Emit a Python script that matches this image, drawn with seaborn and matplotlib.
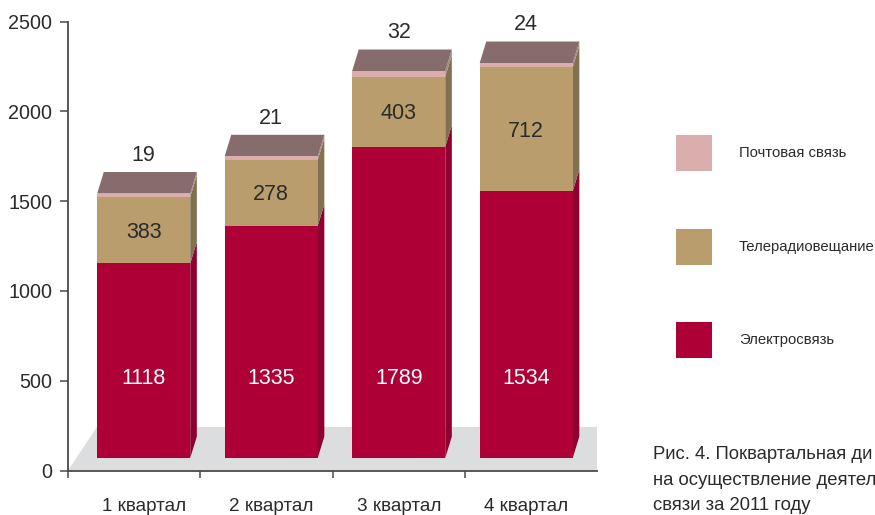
import matplotlib
matplotlib.use("Agg")
import matplotlib.pyplot as plt
from matplotlib.patches import Patch
import pandas as pd
import seaborn as sns

quarters = ["1 квартал", "2 квартал", "3 квартал", "4 квартал"]
electro = [1118, 1335, 1789, 1534]
# The printed label for Q2 broadcasting reads 278, while the bar is drawn at about 378.
tele_drawn = [383, 378, 403, 712]
tele_labels = ["383", "278", "403", "712"]
post = [19, 21, 32, 24]
y_ticks = [0, 500, 1000, 1500, 2000, 2500]
series_names = ["Почтовая связь", "Телерадиовещание", "Электросвязь"]
caption = ["Рис. 4. Поквартальная ди", "на осуществление деятел", "связи за 2011 году"]

C_EL, C_TE, C_PO = "#ae0037", "#b99d6d", "#dbaeae"
S_EL, S_TE, S_PO = "#8e0030", "#82714f", "#a08a80"
C_TOP, C_FLOOR, C_AXIS, C_TXT = "#866c6c", "#dcddde", "#4a4a4a", "#2b2b2b"

sns.set_theme(style="white")
plt.rcParams["font.family"] = ["Liberation Sans", "DejaVu Sans"]
FS_VAL = 15.5
FS_TICK = 14.2
FS_CAT = 13.6
FS_CAP = 13.3
LFS = 10.7

W, H = 875, 515
fig = plt.figure(figsize=(W / 100, H / 100), dpi=100, facecolor="white")
L, R, T, B = 68, 597, 21.5, 470.5
rect = [L / W, 1 - B / H, (R - L) / W, (B - T) / H]

# ---- base axes: y scale, ticks, floor
ax = fig.add_axes(rect, facecolor="none")
ax.set_xlim(0, 4)
ax.set_ylim(0, 2500)
ax.set_xticks([0, 1, 2, 3])
ax.set_xticklabels([])
ax.set_yticks(y_ticks)
ax.tick_params(axis="y", length=6, width=1.1, color=C_AXIS, labelsize=FS_TICK, labelcolor=C_TXT, pad=5.3, left=True)
ax.tick_params(axis="x", length=5, width=1.1, color=C_AXIS, bottom=True)
for s in ("top", "right"):
    ax.spines[s].set_visible(False)
for s in ("left", "bottom"):
    ax.spines[s].set_color(C_AXIS)
    ax.spines[s].set_linewidth(1.3)
ax.grid(False)
floor_depth = 243
floor_skew = 0.219
ax.fill([0, floor_skew, 4, 4], [0, floor_depth, floor_depth, 0], color=C_FLOOR, lw=0, zorder=0)

# ---- bar axes: perspective-shrunk scale standing on the floor
px_per_unit = 0.174
step_px = 127.5
base_px = 458
first_center_px = 143.7
ax2 = fig.add_axes(rect, facecolor="none")
df = pd.DataFrame({"quarter": quarters, "el": electro, "te": tele_drawn, "po": post})
df["cum_te"] = df.el + df.te
df["cum_po"] = df.cum_te + df.po
bar_w = 0.73
for col, c in (("cum_po", C_PO), ("cum_te", C_TE), ("el", C_EL)):
    sns.barplot(data=df, x="quarter", y=col, color=c, saturation=1, width=bar_w, ax=ax2, zorder=3, linewidth=0)

ax2.set_xlim((L - first_center_px) / step_px, (R - first_center_px) / step_px)
y0 = -(B - base_px) / px_per_unit
ax2.set_ylim(y0, y0 + (B - T) / px_per_unit)
dx = 6.6 / step_px
dy = 21.5 / px_per_unit

for i, row in df.iterrows():
    xl, xr = i - bar_w / 2, i + bar_w / 2
    for lo, hi, c in ((0, row.el, S_EL), (row.el, row.cum_te, S_TE), (row.cum_te, row.cum_po, S_PO)):
        ax2.fill([xr, xr + dx, xr + dx, xr], [lo, lo + dy, hi + dy, hi], color=c, lw=0, zorder=2)
    t = row.cum_po
    ax2.fill([xl, xl + dx, xr + dx, xr], [t, t + dy, t + dy, t], color=C_TOP, lw=0, zorder=2)
    ax2.text(i, (base_px - 379) / px_per_unit, str(row.el), color="white", fontsize=FS_VAL,
             ha="center", va="center", zorder=5)
    ax2.annotate(tele_labels[i], (i, row.el + row.te / 2), xytext=(0, -1.5), textcoords="offset points",
                 color=C_TXT, fontsize=FS_VAL, ha="center", va="center", zorder=5)
    ax2.annotate(str(row.po), (i, t + dy), xytext=(0, 12), textcoords="offset points", color=C_TXT,
                 fontsize=FS_VAL, ha="center", va="center", zorder=5, annotation_clip=False)

ax2.set_xlabel("")
ax2.set_ylabel("")
ax2.yaxis.set_visible(False)
for s in ax2.spines.values():
    s.set_visible(False)
ax2.tick_params(axis="x", length=0, pad=20, labelsize=FS_CAT, labelcolor=C_TXT)
ax2.grid(False)

# ---- legend
handles = [Patch(color=c, lw=0) for c in (C_PO, C_TE, C_EL)]
side_pt = 36 * 0.72
hh = (side_pt / LFS - 0.245) / 0.65
fig.legend(handles, series_names, loc="upper left", bbox_to_anchor=(676 / W, 1 - 135 / H), frameon=False,
           fontsize=LFS, borderpad=0, borderaxespad=0, handlelength=side_pt / LFS, handleheight=hh,
           handletextpad=27 * 0.72 / LFS, labelspacing=57.5 * 0.72 / LFS, labelcolor=C_TXT)

# ---- caption, cut by the picture edge in the reference
for line, y in zip(caption, (459, 485, 510)):
    fig.text(653 / W, 1 - y / H, line, fontsize=FS_CAP, color=C_TXT, ha="left", va="baseline")

fig.savefig("out.png", dpi=100)
